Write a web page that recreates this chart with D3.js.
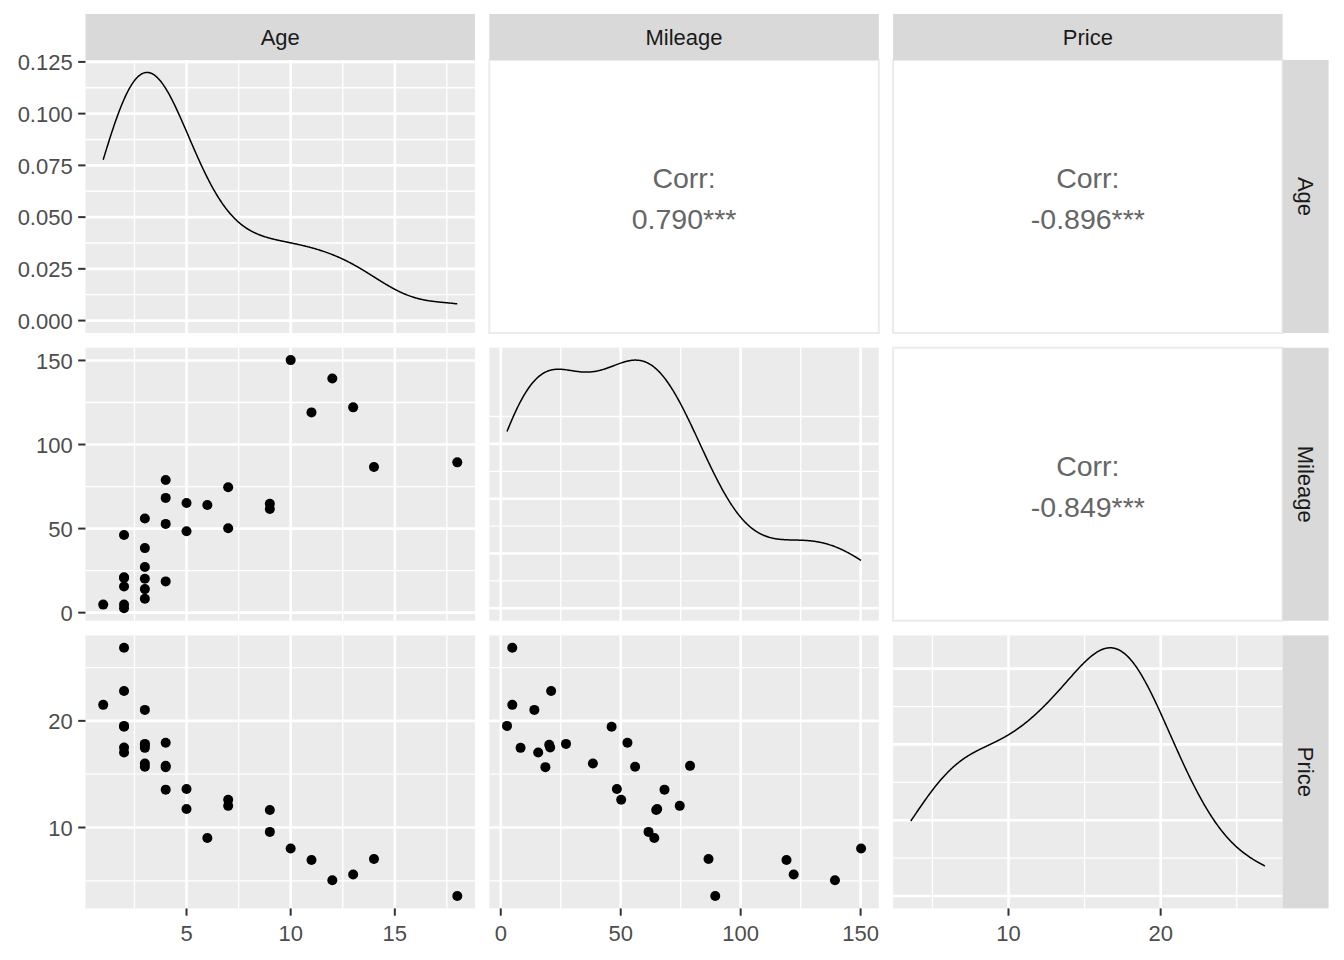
<!DOCTYPE html>
<html>
<head>
<meta charset="utf-8">
<script src="https://cdn.jsdelivr.net/npm/d3@7"></script>
<style>
  html, body { margin: 0; padding: 0; background: #ffffff; }
  svg { display: block; }
  text { font-family: "Liberation Sans", Arial, sans-serif; }
</style>
</head>
<body>
<svg id="chart" width="1344" height="960"></svg>
<script>
// ---------------- data ----------------
const varNames = ["Age", "Mileage", "Price"];
const age     = [1, 2, 2, 2, 2, 2, 2, 3, 3, 3, 3, 3, 3, 4, 4, 4, 4, 5, 5, 6, 7, 7, 9, 9, 10, 11, 12, 13, 14, 18];
const mileage = [4.8, 46.2, 21.0, 20.6, 15.6, 4.8, 2.6, 56.0, 38.4, 27.2, 20.2, 14.0, 8.25, 78.9, 68.25, 52.8, 18.6, 65.2, 48.4, 64.0, 74.6, 50.2, 64.8, 61.6, 150.2, 119.1, 139.3, 122.1, 86.6, 89.4];
const price   = [21.5, 19.45, 22.8, 17.5, 17.03, 26.85, 19.53, 15.7, 16.0, 17.84, 17.75, 21.03, 17.47, 15.78, 13.55, 17.94, 15.66, 11.73, 13.62, 9.02, 12.03, 12.6, 11.65, 9.59, 8.03, 6.96, 5.06, 5.59, 7.05, 3.58];

// correlation labels for the upper panels [row, col]
const corrCells  = [[0, 1], [0, 2], [1, 2]];
const corrLabels = ["0.790***", "-0.896***", "-0.849***"];

// tick values / labels
const ageTicks     = [5, 10, 15];
const mileageTicks = [0, 50, 100, 150];
const priceTicks   = [10, 20];
const ageDensTicks  = [0, 0.025, 0.05, 0.075, 0.1, 0.125];
const ageDensLabels = ["0.000", "0.025", "0.050", "0.075", "0.100", "0.125"];
const mileageDensBreaks = [0, 0.002, 0.004, 0.006];
const priceDensBreaks   = [0, 0.02, 0.04, 0.06];

// ---------------- layout ----------------
const W = 389.5, H = 273;
const colX = [85.5, 489.3, 893.1];
const rowY = [60, 347.7, 635.4];
const stripH = 46, stripW = 46;
const stripTop = 14;
const stripRightX = colX[2] + W;

const svg = d3.select("#chart");
const vars = [age, mileage, price];
const varTicks = [ageTicks, mileageTicks, priceTicks];

function expDomain(arr) {
  const [a, b] = d3.extent(arr);
  const r = b - a;
  return [a - 0.05 * r, b + 0.05 * r];
}
const xScales = vars.map((v, i) => d3.scaleLinear().domain(expDomain(v)).range([colX[i], colX[i] + W]));
const yScales = vars.map((v, i) => d3.scaleLinear().domain(expDomain(v)).range([rowY[i] + H, rowY[i]]));

// kernel density estimate (gaussian kernel, bw.nrd0), as stat_density does
function kde(values) {
  const n = values.length;
  const sd = d3.deviation(values);
  const s = values.slice().sort(d3.ascending);
  const iqr = d3.quantileSorted(s, 0.75) - d3.quantileSorted(s, 0.25);
  const bw = 0.9 * Math.min(sd, iqr / 1.34) * Math.pow(n, -0.2);
  const [lo, hi] = d3.extent(values);
  const g = u => Math.exp(-0.5 * u * u) / Math.sqrt(2 * Math.PI);
  return d3.range(512).map(k => {
    const x = lo + (hi - lo) * k / 511;
    return [x, d3.mean(values, v => g((x - v) / bw)) / bw];
  });
}
const dens = vars.map(kde);
const densScales = dens.map((d, i) => {
  const M = d3.max(d, p => p[1]);
  return d3.scaleLinear().domain([-0.05 * M, 1.05 * M]).range([rowY[i] + H, rowY[i]]);
});
const densBreaks = [ageDensTicks, mileageDensBreaks, priceDensBreaks];

function minorBreaks(majors, domain) {
  const step = majors.length > 1 ? majors[1] - majors[0] : 10;
  const ext = [majors[0] - step, ...majors, majors[majors.length - 1] + step];
  const out = [];
  for (let i = 0; i < ext.length - 1; i++) out.push((ext[i] + ext[i + 1]) / 2);
  const [a, b] = [Math.min(...domain), Math.max(...domain)];
  return out.filter(v => v >= a && v <= b);
}
function inDomain(vals, sc) {
  const [a, b] = d3.extent(sc.domain());
  return vals.filter(v => v >= a && v <= b);
}

const MAJOR = 2.6, MINOR = 1.3;

function drawGrid(g, xs, ys, xMaj, yMaj) {
  const x0 = xs.range()[0], x1 = xs.range()[1];
  const y0 = ys.range()[1], y1 = ys.range()[0];
  g.append("rect").attr("x", x0).attr("y", y0).attr("width", x1 - x0).attr("height", y1 - y0).attr("fill", "#EBEBEB");
  const xMin = minorBreaks(xMaj, xs.domain());
  const yMin = minorBreaks(yMaj, ys.domain());
  g.selectAll(null).data(yMin).join("line")
    .attr("x1", x0).attr("x2", x1).attr("y1", d => ys(d)).attr("y2", d => ys(d))
    .attr("stroke", "#fff").attr("stroke-width", MINOR);
  g.selectAll(null).data(xMin).join("line")
    .attr("y1", y0).attr("y2", y1).attr("x1", d => xs(d)).attr("x2", d => xs(d))
    .attr("stroke", "#fff").attr("stroke-width", MINOR);
  g.selectAll(null).data(inDomain(yMaj, ys)).join("line")
    .attr("x1", x0).attr("x2", x1).attr("y1", d => ys(d)).attr("y2", d => ys(d))
    .attr("stroke", "#fff").attr("stroke-width", MAJOR);
  g.selectAll(null).data(inDomain(xMaj, xs)).join("line")
    .attr("y1", y0).attr("y2", y1).attr("x1", d => xs(d)).attr("x2", d => xs(d))
    .attr("stroke", "#fff").attr("stroke-width", MAJOR);
}

// ---------------- panels ----------------
for (let r = 0; r < 3; r++) {
  for (let c = 0; c < 3; c++) {
    const g = svg.append("g");
    const xs = xScales[c];
    if (r === c) {
      const ys = densScales[r];
      drawGrid(g, xs, ys, varTicks[c], densBreaks[r]);
      g.append("path").datum(dens[r])
        .attr("d", d3.line().x(d => xs(d[0])).y(d => ys(d[1])))
        .attr("fill", "none").attr("stroke", "#000").attr("stroke-width", 1.5);
    } else if (r > c) {
      const ys = yScales[r];
      drawGrid(g, xs, ys, varTicks[c], varTicks[r]);
      const pts = d3.range(age.length).map(i => [vars[c][i], vars[r][i]]);
      g.selectAll(null).data(pts).join("circle")
        .attr("cx", d => xs(d[0])).attr("cy", d => ys(d[1])).attr("r", 5).attr("fill", "#000");
    } else {
      const k = corrCells.findIndex(p => p[0] === r && p[1] === c);
      g.append("rect").attr("x", colX[c]).attr("y", rowY[r]).attr("width", W).attr("height", H)
        .attr("fill", "#fff").attr("stroke", "#EBEBEB").attr("stroke-width", 2);
      const cx = colX[c] + W / 2, cy = rowY[r] + H / 2;
      g.append("text").attr("x", cx).attr("y", cy - 8.2).attr("text-anchor", "middle")
        .attr("font-size", 28.5).attr("fill", "#666666").text("Corr:");
      g.append("text").attr("x", cx).attr("y", cy + 32.8).attr("text-anchor", "middle")
        .attr("font-size", 28.5).attr("fill", "#666666").text(corrLabels[k]);
    }
  }
}

// ---------------- strips ----------------
for (let c = 0; c < 3; c++) {
  svg.append("rect").attr("x", colX[c]).attr("y", stripTop).attr("width", W).attr("height", stripH).attr("fill", "#D9D9D9");
  svg.append("text").attr("x", colX[c] + W / 2).attr("y", stripTop + stripH / 2 + 8)
    .attr("text-anchor", "middle").attr("font-size", 22).attr("fill", "#1A1A1A").text(varNames[c]);
}
for (let r = 0; r < 3; r++) {
  svg.append("rect").attr("x", stripRightX).attr("y", rowY[r]).attr("width", stripW).attr("height", H).attr("fill", "#D9D9D9");
  svg.append("text")
    .attr("transform", `translate(${stripRightX + stripW / 2 - 8},${rowY[r] + H / 2}) rotate(90)`)
    .attr("text-anchor", "middle").attr("font-size", 22).attr("fill", "#1A1A1A").text(varNames[r]);
}

// ---------------- axes ----------------
const TICK = 7.3;
// left axes
const leftScales = [densScales[0], yScales[1], yScales[2]];
const leftTicks = [ageDensTicks, mileageTicks, priceTicks];
const leftLabels = [ageDensLabels, mileageTicks.map(String), priceTicks.map(String)];
for (let r = 0; r < 3; r++) {
  const ys = leftScales[r];
  const g = svg.append("g");
  const data = leftTicks[r].map((v, i) => ({ v, l: leftLabels[r][i] }));
  g.selectAll(null).data(data).join("line")
    .attr("x1", colX[0] - TICK).attr("x2", colX[0]).attr("y1", d => ys(d.v)).attr("y2", d => ys(d.v))
    .attr("stroke", "#333333").attr("stroke-width", 2);
  g.selectAll(null).data(data).join("text")
    .attr("x", colX[0] - TICK - 5.5).attr("y", d => ys(d.v)).attr("dy", "0.38em")
    .attr("text-anchor", "end").attr("font-size", 22).attr("fill", "#4D4D4D").text(d => d.l);
}
// bottom axes
const bottomY = rowY[2] + H;
for (let c = 0; c < 3; c++) {
  const xs = xScales[c];
  const g = svg.append("g");
  g.selectAll(null).data(varTicks[c]).join("line")
    .attr("y1", bottomY).attr("y2", bottomY + TICK).attr("x1", d => xs(d)).attr("x2", d => xs(d))
    .attr("stroke", "#333333").attr("stroke-width", 2);
  g.selectAll(null).data(varTicks[c]).join("text")
    .attr("x", d => xs(d)).attr("y", 941)
    .attr("text-anchor", "middle").attr("font-size", 22).attr("fill", "#4D4D4D").text(d => String(d));
}
</script>
</body>
</html>
